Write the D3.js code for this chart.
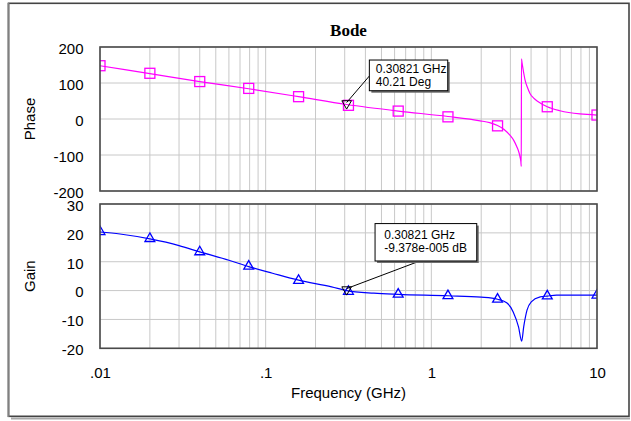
<!DOCTYPE html>
<html>
<head>
<meta charset="utf-8">
<script src="https://cdn.jsdelivr.net/npm/d3@7"></script>
<style>
  body { margin: 0; background: #fff; }
  svg { display: block; }
</style>
</head>
<body>
<svg id="bode" width="631" height="421"></svg>
<script>
// frequency axis
const freqTicks = [0.01, 0.1, 1, 10];
const freqTickLabels = [".01", ".1", "1", "10"];
const phaseTicks = [-200, -100, 0, 100, 200];
const gainTicks = [-20, -10, 0, 10, 20, 30];

// phase trace (GHz, deg)
const phaseFreq = [0.01, 0.02, 0.04, 0.079, 0.158, 0.308, 0.631, 1.26, 1.97, 2.25, 2.51, 2.75, 2.98, 3.15, 3.28, 3.38, 3.43, 3.47, 3.49,
                   3.50, 3.53, 3.56, 3.62, 3.68, 3.8, 3.94, 4.15, 4.42, 5.01, 5.98, 7.89, 10];
const phaseVal = [148, 126, 104, 84, 62, 40.2, 22, 7, -5, -10, -18, -29, -45, -60, -77, -93, -105, -118, -132,
                  167, 155, 145, 125, 108, 88, 71, 58, 48, 34, 23, 14, 11];

// gain trace (GHz, dB)
const gainFreq = [0.01, 0.0132, 0.02, 0.03, 0.04, 0.06, 0.079, 0.11, 0.158, 0.25, 0.308, 0.45, 0.631, 1.26, 2.0, 2.51, 2.85,
                  3.12, 3.36, 3.51, 3.61, 3.78, 4.01, 4.54, 5.01, 5.7, 10];
const gainVal = [20.3, 19.6, 17.9, 15.6, 13.4, 10.5, 8.3, 6.0, 3.6, 1.3, 0, -0.9, -1.3, -1.8, -2.3, -3.0, -4.2,
                 -7.4, -12.6, -17.5, -12.6, -6.8, -3.9, -2.2, -1.9, -1.6, -1.6];

// symbol markers
const markerFreq = [0.01, 0.02, 0.04, 0.079, 0.158, 0.316, 0.631, 1.26, 2.51, 5.01, 10];
const phaseMarkerVal = [148, 127, 104, 85, 62, 38, 22, 6, -19, 34, 11];
const gainMarkerVal = [20.4, 18, 13.4, 8.4, 3.5, -0.3, -1.3, -1.8, -3, -1.9, -1.6];

// readout markers
const readFreq = 0.30821;
const readPhase = 40.21;
const readGain = -9.378e-5;
const phaseReadText = ["0.30821 GHz", "40.21 Deg"];
const gainReadText = ["0.30821 GHz", "-9.378e-005 dB"];

const svg = d3.select("#bode");
const left = 100, right = 597;
const phaseTop = 47, phaseBottom = 191;
const gainTop = 204, gainBottom = 348.3;
const font = "'Liberation Sans', Arial, sans-serif";

const x = d3.scaleLog().domain([0.01, 10]).range([left, right]);
const yPhase = d3.scaleLinear().domain([-200, 200]).range([phaseBottom, phaseTop]);
const yGain = d3.scaleLinear().domain([-20, 30]).range([gainBottom, gainTop]);

// outer frame
svg.append("line").attr("x1", 11).attr("x2", 630).attr("y1", 418.5).attr("y2", 418.5)
    .attr("stroke", "#a8a8a8").attr("stroke-width", 2);
svg.append("rect").attr("x", 8.5).attr("y", 3.3).attr("width", 620.5).attr("height", 413)
    .attr("fill", "#fff").attr("stroke", "#444").attr("stroke-width", 1.6);
svg.append("line").attr("x1", 8.5).attr("x2", 8.5).attr("y1", 3).attr("y2", 417)
    .attr("stroke", "#808080").attr("stroke-width", 1.8);

svg.append("text")
    .attr("x", (left + right) / 2).attr("y", 35.5)
    .attr("text-anchor", "middle")
    .style("font-family", "'Liberation Serif', 'Times New Roman', serif")
    .style("font-weight", "bold").style("font-size", "17px")
    .text("Bode");

function panel(y, top, bottom, ticks, label, id) {
    const g = svg.append("g");
    svg.append("clipPath").attr("id", id)
        .append("rect").attr("x", left).attr("y", top).attr("width", right - left).attr("height", bottom - top);

    // grid
    g.selectAll(".vg").data(x.ticks()).enter().append("line")
        .attr("x1", d => x(d)).attr("x2", d => x(d))
        .attr("y1", top).attr("y2", bottom)
        .attr("stroke", "#c8c8c8").attr("stroke-width", 1);
    g.selectAll(".hg").data(ticks).enter().append("line")
        .attr("x1", left).attr("x2", right)
        .attr("y1", d => y(d)).attr("y2", d => y(d))
        .attr("stroke", "#c8c8c8").attr("stroke-width", 1);

    const ax = g.append("g").attr("transform", `translate(${left},0)`)
        .call(d3.axisLeft(y).tickValues(ticks).tickSize(0).tickPadding(16.5).tickFormat(d => String(d)));
    ax.select(".domain").remove();
    ax.selectAll("text").attr("dy", "0.42em")
        .style("font-family", font).style("font-size", "15px").attr("fill", "#000");

    svg.append("text")
        .attr("transform", `translate(35,${(top + bottom) / 2}) rotate(-90)`)
        .attr("text-anchor", "middle")
        .style("font-family", font).style("font-size", "15px")
        .text(label);
    return g;
}

const phaseG = panel(yPhase, phaseTop, phaseBottom, phaseTicks, "Phase", "clipPhase");
const gainG = panel(yGain, gainTop, gainBottom, gainTicks, "Gain", "clipGain");

// traces
const phaseLine = d3.line().x(d => x(d[0])).y(d => yPhase(d[1])).curve(d3.curveMonotoneX);
const gainLine = d3.line().x(d => x(d[0])).y(d => yGain(d[1])).curve(d3.curveMonotoneX);

phaseG.append("path")
    .datum(d3.zip(phaseFreq, phaseVal))
    .attr("clip-path", "url(#clipPhase)")
    .attr("d", phaseLine).attr("fill", "none").attr("stroke", "#ff00ff").attr("stroke-width", 1.2);

gainG.append("path")
    .datum(d3.zip(gainFreq, gainVal))
    .attr("clip-path", "url(#clipGain)")
    .attr("d", gainLine).attr("fill", "none").attr("stroke", "#0000ff").attr("stroke-width", 1.2);

phaseG.append("g").attr("clip-path", "url(#clipPhase)")
    .selectAll("rect").data(d3.zip(markerFreq, phaseMarkerVal)).enter().append("rect")
    .attr("x", d => x(d[0]) - 5).attr("y", d => yPhase(d[1]) - 5)
    .attr("width", 10).attr("height", 10)
    .attr("fill", "none").attr("stroke", "#ff00ff").attr("stroke-width", 1.3);

const tri = d3.symbol().type(d3.symbolTriangle).size(42);
gainG.append("g").attr("clip-path", "url(#clipGain)")
    .selectAll("path").data(d3.zip(markerFreq, gainMarkerVal)).enter().append("path")
    .attr("transform", d => `translate(${x(d[0])},${yGain(d[1])})`)
    .attr("d", tri)
    .attr("fill", "none").attr("stroke", "#0000ff").attr("stroke-width", 1.3);

// plot borders
[[phaseTop, phaseBottom], [gainTop, gainBottom]].forEach(([t, b]) => {
    svg.append("rect").attr("x", left).attr("y", t).attr("width", right - left).attr("height", b - t)
        .attr("fill", "none").attr("stroke", "#4a4a4a").attr("stroke-width", 1.6);
});

// frequency axis
const xa = svg.append("g").attr("transform", `translate(0,${gainBottom})`)
    .call(d3.axisBottom(x).tickValues(freqTicks).tickSize(0).tickPadding(19)
        .tickFormat((d, i) => freqTickLabels[i]));
xa.select(".domain").remove();
xa.selectAll("text").style("font-family", font).style("font-size", "15px").attr("fill", "#000");

svg.append("text")
    .attr("x", (left + right) / 2).attr("y", 397.7)
    .attr("text-anchor", "middle")
    .style("font-family", font).style("font-size", "15px")
    .text("Frequency (GHz)");

// readout boxes
function readout(px, py, box, anchor, lines) {
    const g = svg.append("g");
    g.append("line").attr("x1", px).attr("y1", py - 2).attr("x2", px + anchor[0]).attr("y2", py + anchor[1])
        .attr("stroke", "#000").attr("stroke-width", 1);
    g.append("path")
        .attr("transform", `translate(${px},${py - 1}) rotate(180)`)
        .attr("d", d3.symbol().type(d3.symbolTriangle).size(40))
        .attr("fill", "none").attr("stroke", "#000").attr("stroke-width", 1);
    g.append("rect").attr("x", px + box[0] + 2).attr("y", py + box[1] + 2).attr("width", box[2]).attr("height", box[3])
        .attr("fill", "#6e6e6e");
    g.append("rect").attr("x", px + box[0]).attr("y", py + box[1]).attr("width", box[2]).attr("height", box[3])
        .attr("fill", "#fff").attr("stroke", "#000").attr("stroke-width", 1);
    lines.forEach((t, i) => {
        g.append("text")
            .attr("x", px + box[4]).attr("y", py + box[5] + i * box[6])
            .style("font-family", font).style("font-size", "12px")
            .text(t);
    });
}

readout(x(readFreq), yPhase(readPhase), [22.7, -44.5, 78.4, 30.7, 29.1, -31.8, 13.3], [22.7, -28.5], phaseReadText);
readout(x(readFreq), yGain(readGain), [28.4, -67, 101.7, 37.4, 37.6, -51.1, 13], [73.4, -29.7], gainReadText);
</script>
</body>
</html>
